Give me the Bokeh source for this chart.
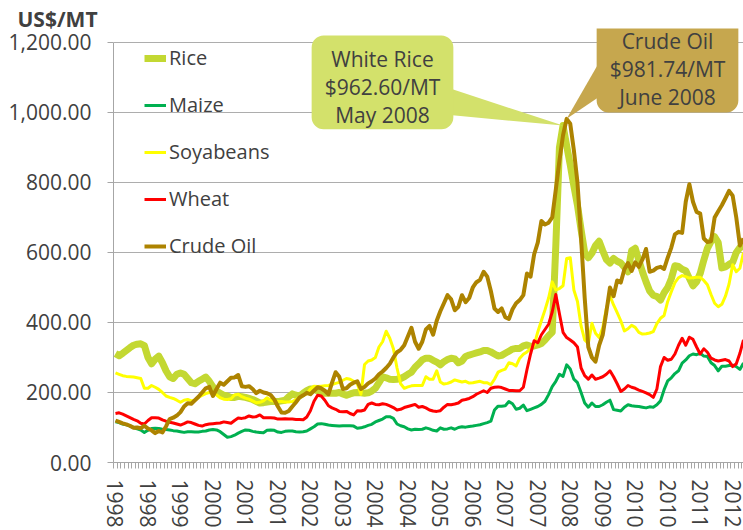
from bokeh.plotting import figure
from bokeh.models import (Range1d, FixedTicker, NumeralTickFormatter, Legend,
                          LegendItem, Label)
from bokeh.embed import file_html
from bokeh.resources import INLINE

# ---------------- data (monthly, Jan 1998 - Jul 2012), US$/MT ----------------
rice = [311,305,312,320,328,335,338,339,334,300,
        282,295,304,285,262,245,240,252,256,252,
        240,228,225,232,238,244,232,216,204,198,
        192,190,186,186,189,188,186,183,180,175,
        170,171,173,174,174,174,176,178,188,196,
        192,190,198,205,210,210,204,200,198,198,
        198,198,200,196,192,196,199,200,199,198,
        199,204,212,228,245,242,238,237,238,240,
        245,252,258,272,282,293,298,298,292,287,
        279,288,294,298,296,285,290,303,307,310,
        313,316,320,320,316,310,304,306,312,318,
        324,326,326,333,336,332,333,336,340,350,
        362,372,620,900,962.6,905,850,790,735,665,
        600,585,598,620,632,605,580,570,583,575,
        570,558,545,605,612,578,545,516,490,478,
        474,464,485,500,525,562,560,552,548,526,
        505,516,540,578,612,632,645,628,556,559,
        566,572,600,614,618]

maize = [116,114,110,108,104,100,96,93,86,92,
         97,98,97,95,94,93,91,90,88,86,
         88,88,87,87,89,90,93,94,93,88,
         80,72,74,78,84,89,93,92,89,87,
         86,85,92,93,92,87,86,89,90,90,
         88,87,88,90,96,102,110,111,109,107,
         106,105,104,105,105,105,104,98,99,102,
         106,109,116,120,124,131,131,126,110,105,
         102,96,93,95,94,95,99,96,92,90,
         99,95,96,99,95,100,102,101,103,104,
         106,108,111,114,118,150,161,161,162,174,
         168,152,155,164,148,152,156,160,166,175,
         194,217,232,252,246,279,267,238,228,200,
         170,158,170,160,160,165,172,178,151,149,
         147,158,165,162,161,160,158,156,159,158,
         165,176,208,233,242,254,262,284,293,305,
         310,308,312,304,303,285,277,262,275,275,
         277,278,274,266,284]

soyabeans = [256,252,248,246,245,244,242,240,212,212,
             220,215,209,200,190,186,183,178,172,178,
             180,176,178,186,192,197,200,198,193,185,
             181,180,182,193,195,188,184,181,176,171,
             172,176,185,178,175,174,174,173,173,174,
             180,186,192,196,210,218,217,218,219,220,
             223,226,229,235,240,238,232,225,195,280,
             290,293,300,330,345,375,355,325,270,225,
             212,216,219,220,220,220,245,238,238,262,
             230,224,226,230,236,233,230,232,227,228,
             230,232,228,228,222,238,258,263,267,285,
             282,276,298,309,316,325,335,373,405,436,
             470,516,493,497,505,583,585,493,460,390,
             350,340,398,369,357,385,440,476,450,428,
             405,376,382,392,386,372,367,368,370,374,
             397,412,420,460,488,514,528,534,531,527,
             528,529,529,520,508,480,455,445,452,475,
             510,565,545,555,600]

wheat = [140,142,138,133,128,123,119,112,110,120,
         128,128,127,122,118,115,113,110,107,111,
         116,114,110,106,104,108,110,111,112,113,
         116,114,112,120,127,126,128,133,130,131,
         136,128,128,128,127,124,124,125,124,124,
         123,123,122,130,148,175,192,190,178,162,
         156,152,146,145,146,140,136,148,147,150,
         166,170,166,165,168,166,162,157,150,152,
         157,160,163,166,158,160,156,150,147,146,
         148,158,166,165,167,170,178,180,183,188,
         195,200,205,200,212,215,216,214,210,206,
         206,205,205,215,265,310,348,342,365,380,
         395,430,480,425,372,357,350,342,330,270,
         248,238,250,238,241,245,252,262,245,225,
         203,210,220,215,212,207,203,199,194,186,
         210,274,300,292,295,310,335,355,335,358,
         352,330,310,325,315,298,293,290,292,294,
         290,274,282,312,350]

crude_oil = [120,116,112,109,105,99,100,98,105,97,
             92,84,90,86,103,124,128,134,144,160,
             169,168,178,188,200,212,216,190,210,228,
             222,232,242,243,250,218,216,218,210,198,
             205,200,198,193,180,160,143,142,147,160,
             172,186,192,199,195,205,215,212,205,195,
             228,258,245,210,212,222,228,232,210,216,
             226,232,240,252,260,270,282,300,315,322,
             335,360,385,345,325,345,380,390,365,405,
             432,455,478,466,435,445,478,458,470,500,
             515,522,545,531,490,440,430,440,415,410,
             438,455,464,478,540,531,595,628,690,680,
             685,700,780,862,935,981.74,968,892,800,640,
             470,330,300,288,335,365,430,500,475,520,
             514,552,570,547,572,559,580,610,545,548,
             556,559,553,585,614,652,659,656,745,795,
             745,716,711,640,630,632,700,718,735,755,
             776,762,700,620,640]

series_names = ["Rice", "Maize", "Soyabeans", "Wheat", "Crude Oil"]
tick_labels = ["1998", "1998", "1999", "2000", "2001", "2001", "2002", "2003",
               "2004", "2004", "2005", "2006", "2007", "2007", "2008", "2009",
               "2010", "2010", "2011", "2012"]
label_step = 9  # one category label every 9 months
y_ticks = [0, 200, 400, 600, 800, 1000, 1200]
y_max = 1200

rice_peak_idx = 124   # May 2008
oil_peak_idx = 125    # June 2008

n = len(rice)
months = list(range(n))

# ---------------- layout / styling ----------------
FONT = "Open Sans"
TXT = "#404040"
GRID = "#ADADAD"
AX = "#A6A6A6"
colors = {"Rice": "#C3D832", "Maize": "#00B050", "Soyabeans": "#FFFF00",
          "Wheat": "#FF0000", "Crude Oil": "#AD8300"}
widths = {"Rice": 7, "Maize": 3, "Soyabeans": 3, "Wheat": 3, "Crude Oil": 4}

W, H = 743, 530
BL, BT, BB = 113, 28, 67           # borders (left, top, bottom)
FB = H - BB                        # frame bottom (px)
Y_TOP_PX = 42                      # where 1,200 sits
PX_PER_UNIT = (FB - Y_TOP_PX) / y_max
Y1 = y_max + (Y_TOP_PX - BT) / PX_PER_UNIT
X0, X1 = -0.55, n - 1.0

p = figure(width=W, height=H, output_backend="svg", toolbar_location=None,
           x_range=Range1d(X0, X1), y_range=Range1d(0, Y1),
           min_border_left=BL, min_border_right=0, min_border_top=BT,
           min_border_bottom=BB)
p.outline_line_color = None
p.background_fill_color = "white"
p.border_fill_color = "white"

p.title.text = "US$/MT"
p.title.align = "left"
p.title.offset = 17 - BL
p.title.standoff = -9
p.title.text_font = FONT
p.title.text_font_size = "21px"
p.title.text_font_style = "bold"
p.title.text_color = TXT

# x axis
p.xaxis.ticker = FixedTicker(ticks=[label_step * k for k in range(len(tick_labels))],
                             minor_ticks=[m - 0.5 for m in range(n + 1)])
p.xaxis.major_label_overrides = {label_step * k: lab for k, lab in enumerate(tick_labels)}
p.xaxis.major_label_orientation = "vertical"
p.xaxis.major_tick_out = 0
p.xaxis.major_tick_in = 0
p.xaxis.minor_tick_out = 6
p.xaxis.minor_tick_in = 0
p.xaxis.minor_tick_line_color = AX
p.xaxis.major_label_standoff = 11

# y axis
p.yaxis.ticker = FixedTicker(ticks=y_ticks)
p.yaxis.formatter = NumeralTickFormatter(format="0,0.00")
p.yaxis.bounds = (0, y_max)
p.yaxis.major_tick_out = 6
p.yaxis.major_tick_in = 0
p.yaxis.minor_tick_line_color = None
p.yaxis.major_tick_line_color = AX
p.yaxis.major_label_standoff = 16

for ax in (p.xaxis, p.yaxis):
    ax.axis_line_color = AX
    ax.major_label_text_font = FONT
    ax.major_label_text_font_size = "21px"
    ax.major_label_text_color = TXT

p.xgrid.visible = False
p.ygrid.grid_line_color = GRID
p.ygrid.grid_line_width = 1

data = {"Rice": rice, "Maize": maize, "Soyabeans": soyabeans,
        "Wheat": wheat, "Crude Oil": crude_oil}
renderers = {}
for name in series_names:
    renderers[name] = p.line(months, data[name], line_color=colors[name],
                             line_width=widths[name], line_join="round")

legend = Legend(items=[LegendItem(label=nm, renderers=[renderers[nm]]) for nm in series_names],
                location=(31, 203), orientation="vertical",
                glyph_width=22, glyph_height=26, label_height=26, spacing=20,
                label_standoff=3, padding=5, margin=0,
                border_line_color=None, background_fill_alpha=0,
                label_text_font=FONT, label_text_font_size="20px",
                label_text_color=TXT)
p.add_layout(legend)

# ---------------- helpers: chart pixel -> data coordinates ----------------
FW = W - BL
def px_x(px):
    return X0 + (px - BL) / FW * (X1 - X0)
def px_y(py):
    return (FB - py) / PX_PER_UNIT

# callout wedges
rice_fill = "#D3E16B"
oil_fill = "#C6A74E"
p.patch([px_x(452), px_x(452), rice_peak_idx],
        [px_y(89), px_y(115), rice[rice_peak_idx]],
        fill_color=rice_fill, line_color=None)
p.patch([px_x(598), px_x(598), oil_peak_idx],
        [px_y(63), px_y(97), crude_oil[oil_peak_idx]],
        fill_color=oil_fill, line_color=None)

rice_lab = Label(x=px_x(382), y=px_y(82),
                 text="White Rice\n$%.2f/MT\nMay 2008" % rice[rice_peak_idx],
                 text_align="center", text_baseline="middle",
                 text_font=FONT, text_font_size="21px", text_color=TXT,
                 text_line_height=1.01,
                 background_fill_color=rice_fill, border_line_color=None,
                 border_radius=12, padding=dict(left=13, right=13, top=9, bottom=0))
oil_lab = Label(x=px_x(667), y=px_y(64),
                text="Crude Oil\n$%.2f/MT\nJune 2008" % crude_oil[oil_peak_idx],
                text_align="center", text_baseline="middle",
                text_font=FONT, text_font_size="21px", text_color=TXT,
                text_line_height=1.0,
                background_fill_color=oil_fill, border_line_color=None,
                border_radius=12, padding=dict(left=13, right=13, top=11, bottom=1))
p.add_layout(rice_lab)
p.add_layout(oil_lab)

open("out.html", "w").write(file_html(p, INLINE))
